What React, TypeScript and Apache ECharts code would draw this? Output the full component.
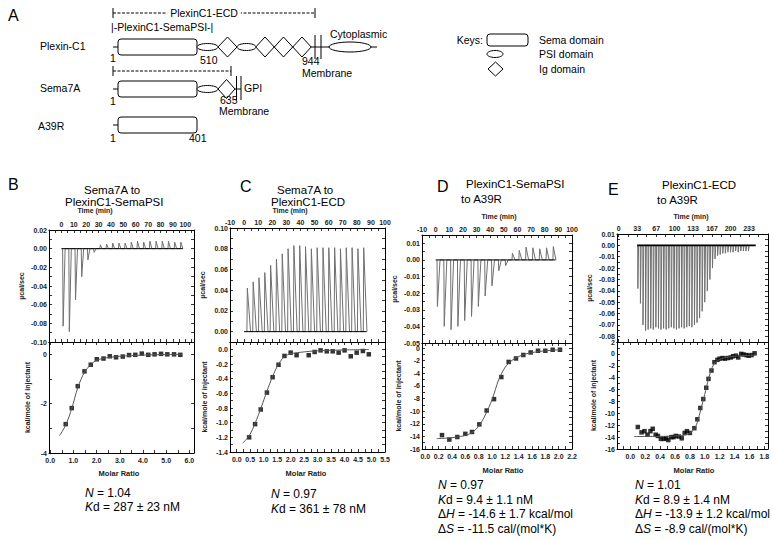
import { useEffect, useRef } from "react";
import * as echarts from "echarts";

const FONT = "'Liberation Sans', Arial, Helvetica, sans-serif";

// ================= Panel B: Sema7A to PlexinC1-SemaPSI =================
const timeTicksB = [0, 10, 20, 30, 40, 50, 60, 70, 80, 90, 100];
const ucalTicksB = [-0.1, -0.08, -0.06, -0.04, -0.02, 0.0, 0.02];
const ratioTicksB = [0, 1, 2, 3, 4, 5, 6];
const kcalTicksB = [-4, -2, 0];
const injStartB = 1;
const injStepB = 5;
const peaksB = [-0.083, -0.089, -0.055, -0.03, -0.012, -0.004, 0.004, 0.005, 0.006, 0.006, 0.006, 0.007, 0.008, 0.007, 0.008, 0.008, 0.008, 0.008, 0.007, 0.007];
const baselineB = [[0, 0], [98, 0]];
const isoB = [[0.67, -2.83], [0.93, -2.18], [1.19, -1.29], [1.48, -0.69], [1.75, -0.42], [2.01, -0.2], [2.3, -0.17], [2.57, -0.08], [2.84, -0.12], [3.13, -0.09], [3.4, -0.03], [3.67, -0.02], [3.95, 0.03], [4.23, -0.02], [4.5, 0.0], [4.78, 0.02], [5.05, 0.0], [5.34, 0.0], [5.61, -0.02]];
const fitB = [[0.4, -3.3], [0.67, -2.87], [0.93, -2.2], [1.19, -1.35], [1.48, -0.72], [1.75, -0.42], [2.0, -0.24], [2.5, -0.13], [3.0, -0.08], [4.0, -0.03], [5.0, -0.01], [5.7, 0.0]];

// ================= Panel C: Sema7A to PlexinC1-ECD =================
const timeTicksC = [-10, 0, 10, 20, 30, 40, 50, 60, 70, 80, 90, 100];
const ucalTicksC = [0.0, 0.02, 0.04, 0.06, 0.08, 0.1];
const ratioTicksC = [0, 0.5, 1, 1.5, 2, 2.5, 3, 3.5, 4, 4.5, 5, 5.5];
const kcalTicksC = [-1.4, -1.2, -1.0, -0.8, -0.6, -0.4, -0.2, 0.0];
const injStartC = 2;
const injStepC = 4.13;
const peaksC = [0.042, 0.048, 0.052, 0.057, 0.064, 0.07, 0.075, 0.08, 0.083, 0.083, 0.082, 0.08, 0.081, 0.081, 0.081, 0.081, 0.08, 0.081, 0.081, 0.08, 0.081];
const baselineC = [[0, 0], [87, 0]];
const isoC = [[0.46, -1.2], [0.68, -1.02], [0.89, -0.82], [1.12, -0.59], [1.33, -0.38], [1.55, -0.21], [1.77, -0.09], [2.0, -0.045], [2.22, -0.08], [2.67, -0.08], [2.89, -0.036], [3.11, -0.014], [3.34, -0.027], [3.56, -0.027], [3.78, -0.045], [4.0, -0.014], [4.23, -0.095], [4.45, -0.045], [4.68, -0.023], [4.9, -0.068]];
const fitC = [[0.22, -1.28], [0.46, -1.18], [0.68, -1.01], [0.9, -0.8], [1.12, -0.57], [1.33, -0.37], [1.55, -0.2], [1.77, -0.1], [2.0, -0.06], [2.5, -0.035], [3.0, -0.02], [4.0, -0.008], [4.9, -0.003]];

// ================= Panel D: PlexinC1-SemaPSI to A39R =================
const timeTicksD = [-10, 0, 10, 20, 30, 40, 50, 60, 70, 80, 90, 100];
const ucalTicksD = [-0.05, -0.04, -0.03, -0.02, -0.01, 0.0, 0.01];
const ratioTicksD = [0, 0.2, 0.4, 0.6, 0.8, 1.0, 1.2, 1.4, 1.6, 1.8, 2.0, 2.2];
const kcalTicksD = [-16, -14, -12, -10, -8, -6, -4, -2, 0];
const injStartD = 1;
const injStepD = 5;
const peaksD = [-0.028, -0.04, -0.042, -0.04, -0.0365, -0.034, -0.028, -0.0217, -0.0156, -0.0065, -0.0035, 0.004, 0.0057, 0.0077, 0.0073, 0.0067, 0.0073, 0.008];
const baselineD = [[0, 0], [88, 0]];
const isoD = [[0.25, -13.8], [0.36, -14.5], [0.48, -14.1], [0.6, -13.6], [0.7, -13.3], [0.81, -12.1], [0.92, -9.9], [1.03, -8.1], [1.14, -4.6], [1.25, -2.2], [1.36, -1.65], [1.47, -1.1], [1.58, -0.7], [1.69, -0.43], [1.8, -0.43], [1.91, -0.27], [2.02, -0.27]];
const fitD = [[0.17, -14.35], [0.3, -14.3], [0.45, -14.15], [0.6, -13.85], [0.7, -13.4], [0.8, -12.4], [0.9, -10.6], [1.0, -8.2], [1.05, -6.6], [1.1, -5.0], [1.2, -3.0], [1.3, -1.95], [1.4, -1.35], [1.5, -0.95], [1.7, -0.55], [1.9, -0.35], [2.04, -0.28]];

// ================= Panel E: PlexinC1-ECD to A39R =================
const timeTicksE = [0, 33, 67, 100, 133, 167, 200, 233];
const ucalTicksE = [-0.08, -0.07, -0.06, -0.05, -0.04, -0.03, -0.02, -0.01, 0.0, 0.01];
const ratioTicksE = [0, 0.2, 0.4, 0.6, 0.8, 1.0, 1.2, 1.4, 1.6, 1.8];
const kcalTicksE = [-16, -14, -12, -10, -8, -6, -4, -2, 0, 2];
const injStartE = 34;
const injStepE = 4.6;
const peaksE = [-0.038, -0.051, -0.07, -0.075, -0.074, -0.073, -0.074, -0.072, -0.073, -0.074, -0.073, -0.074, -0.073, -0.072, -0.073, -0.074, -0.073, -0.072, -0.073, -0.072, -0.071, -0.072, -0.07, -0.068, -0.064, -0.058, -0.05, -0.04, -0.03, -0.02, -0.012, -0.009, -0.008, -0.007, -0.007, -0.006, -0.006, -0.006, -0.005, -0.006, -0.005, -0.005, -0.005, -0.005];
const baselineE = [[33, 0], [245, 0]];
const isoE = [[0.1, -12.3], [0.15, -13.2], [0.19, -13.0], [0.23, -13.6], [0.27, -13.0], [0.3, -12.6], [0.34, -13.6], [0.37, -13.8], [0.41, -14.3], [0.45, -14.3], [0.48, -14.2], [0.51, -14.5], [0.55, -14.0], [0.58, -14.0], [0.61, -13.8], [0.65, -13.9], [0.69, -14.2], [0.73, -13.3], [0.76, -13.0], [0.8, -13.3], [0.86, -12.5], [0.9, -11.0], [0.94, -9.1], [0.98, -7.6], [1.02, -5.7], [1.05, -4.2], [1.09, -2.8], [1.13, -1.4], [1.17, -1.0], [1.2, -0.8], [1.24, -0.7], [1.27, -0.8], [1.31, -0.7], [1.35, -0.6], [1.38, -0.4], [1.42, -0.3], [1.45, -0.6], [1.49, 0.0], [1.52, -0.1], [1.56, -0.2], [1.59, -0.3], [1.63, -0.2], [1.67, 0.1]];
const fitE = [[0.05, -13.9], [0.5, -13.85], [0.75, -13.6], [0.85, -12.8], [0.9, -11.5], [0.95, -9.2], [1.0, -6.8], [1.05, -4.2], [1.1, -2.3], [1.15, -1.3], [1.25, -0.7], [1.4, -0.4], [1.68, -0.2]];

// ---------------- layout ----------------
type Panel = {
  top: number[]; bot: number[];
  tx: number[]; ty: number[]; bx: number[]; by: number[];
  timeTicks: number[]; ucalTicks: number[]; ratioTicks: number[]; kcalTicks: number[];
  ucalDec: number; ratioDec: number; kcalDec: number;
  start: number; step: number; peaks: number[]; rise: number; width: number;
  baseline: number[][]; iso: number[][]; fit: number[][];
  yGapTop: number; yGapBot: number;
};

const panels: Panel[] = [
  { top: [49, 230, 145, 112], bot: [49, 342, 145, 111], tx: [-10, 107], ty: [-0.1, 0.02], bx: [-0.05, 6.2], by: [-4, 0.5],
    timeTicks: timeTicksB, ucalTicks: ucalTicksB, ratioTicks: ratioTicksB, kcalTicks: kcalTicksB, ucalDec: 2, ratioDec: 1, kcalDec: 0,
    start: injStartB, step: injStepB, peaks: peaksB, rise: 0.4, width: 2.0, baseline: baselineB, iso: isoB, fit: fitB, yGapTop: 24, yGapBot: 18 },
  { top: [230, 228, 155, 114], bot: [230, 342, 155, 110], tx: [-10, 100], ty: [-0.01, 0.1], bx: [-0.25, 5.5], by: [-1.4, 0.1],
    timeTicks: timeTicksC, ucalTicks: ucalTicksC, ratioTicks: ratioTicksC, kcalTicks: kcalTicksC, ucalDec: 2, ratioDec: 1, kcalDec: 1,
    start: injStartC, step: injStepC, peaks: peaksC, rise: 0.3, width: 2.6, baseline: baselineC, iso: isoC, fit: fitC, yGapTop: 24, yGapBot: 22 },
  { top: [422, 235, 150, 108], bot: [422, 343, 150, 106], tx: [-10, 100], ty: [-0.05, 0.015], bx: [-0.05, 2.2], by: [-16, 0.8],
    timeTicks: timeTicksD, ucalTicks: ucalTicksD, ratioTicks: ratioTicksD, kcalTicks: kcalTicksD, ucalDec: 2, ratioDec: 1, kcalDec: 0,
    start: injStartD, step: injStepD, peaks: peaksD, rise: 0.3, width: 2.2, baseline: baselineD, iso: isoD, fit: fitD, yGapTop: 24, yGapBot: 20 },
  { top: [617, 234, 151, 108], bot: [617, 342, 151, 107], tx: [-3, 267], ty: [-0.085, 0.01], bx: [-0.18, 1.85], by: [-16, 2],
    timeTicks: timeTicksE, ucalTicks: ucalTicksE, ratioTicks: ratioTicksE, kcalTicks: kcalTicksE, ucalDec: 2, ratioDec: 1, kcalDec: 0,
    start: injStartE, step: injStepE, peaks: peaksE, rise: 0.3, width: 1.6, baseline: baselineE, iso: isoE, fit: fitE, yGapTop: 24, yGapBot: 20 },
];

function withMinor(ticks: number[], min: number, max: number) {
  const out: number[] = [...ticks];
  for (let i = 0; i < ticks.length - 1; i++) out.push((ticks[i] + ticks[i + 1]) / 2);
  if (ticks.length > 1) {
    const d = ticks[1] - ticks[0];
    const lo = ticks[0] - d / 2; if (lo >= min) out.push(lo);
    const hi = ticks[ticks.length - 1] + d / 2; if (hi <= max) out.push(hi);
  }
  return out.filter((v) => v >= min - 1e-9 && v <= max + 1e-9);
}

function fmt(dec: number) {
  return (v: number) => {
    const r = Math.abs(v) < 1e-9 ? 0 : v;
    return r.toFixed(dec);
  };
}

const labelStyle = { fontSize: 7, fontWeight: "bold" as const, color: "#222", fontFamily: FONT };

function makeAxis(gridIndex: number, position: string, min: number, max: number, ticks: number[], dec: number, showLabel: boolean, extra: any = {}) {
  return {
    type: "value", gridIndex, position, min, max,
    axisLine: { show: true, onZero: false, lineStyle: { color: "#000", width: 1 } },
    axisTick: { show: true, inside: true, length: 3, customValues: withMinor(ticks, min, max), lineStyle: { color: "#000", width: 0.8 } },
    axisLabel: { show: showLabel, customValues: ticks, formatter: fmt(dec), margin: 2, ...labelStyle },
    splitLine: { show: false },
    ...extra,
  };
}

function spikes(start: number, step: number, peaks: number[], rise: number, width: number) {
  const out: number[][] = [];
  peaks.forEach((p, i) => {
    const t = start + i * step;
    out.push([t, 0], [t + rise, p], [t + width, 0]);
  });
  return out;
}

function buildOption() {
  const grid: any[] = [];
  const xAxis: any[] = [];
  const yAxis: any[] = [];
  const series: any[] = [];
  panels.forEach((p, k) => {
    const gt = 2 * k, gb = 2 * k + 1;
    grid.push({ left: p.top[0], top: p.top[1], width: p.top[2], height: p.top[3], containLabel: false });
    grid.push({ left: p.bot[0], top: p.bot[1], width: p.bot[2], height: p.bot[3], containLabel: false });
    xAxis.push(makeAxis(gt, "top", p.tx[0], p.tx[1], p.timeTicks, 0, true));
    xAxis.push(makeAxis(gt, "bottom", p.tx[0], p.tx[1], p.timeTicks, 0, false));
    yAxis.push(makeAxis(gt, "left", p.ty[0], p.ty[1], p.ucalTicks, p.ucalDec, true, {
      name: "µcal/sec", nameLocation: "middle", nameGap: p.yGapTop, nameTextStyle: { fontSize: 7, fontWeight: "bold", fontFamily: FONT, color: "#222" } }));
    yAxis.push(makeAxis(gt, "right", p.ty[0], p.ty[1], p.ucalTicks, p.ucalDec, false));
    xAxis.push(makeAxis(gb, "bottom", p.bx[0], p.bx[1], p.ratioTicks, p.ratioDec, true, { axisLabel: { show: true, customValues: p.ratioTicks, formatter: fmt(p.ratioDec), margin: 4, ...labelStyle } }));
    xAxis.push(makeAxis(gb, "top", p.bx[0], p.bx[1], p.ratioTicks, p.ratioDec, false));
    yAxis.push(makeAxis(gb, "left", p.by[0], p.by[1], p.kcalTicks, p.kcalDec, true, {
      name: "kcal/mole of injectant", nameLocation: "middle", nameGap: p.yGapBot, nameTextStyle: { fontSize: 7, fontWeight: "bold", fontFamily: FONT, color: "#222" } }));
    yAxis.push(makeAxis(gb, "right", p.by[0], p.by[1], p.kcalTicks, p.kcalDec, false));

    const xt = 2 * gt, yt = 2 * gt, xb = 2 * gb, yb = 2 * gb;
    series.push({ type: "line", xAxisIndex: xt, yAxisIndex: yt, data: spikes(p.start, p.step, p.peaks, p.rise, p.width), showSymbol: false, symbol: "none", lineStyle: { color: "#707070", width: 1 }, silent: true });
    series.push({ type: "line", xAxisIndex: xt, yAxisIndex: yt, data: p.baseline, showSymbol: false, symbol: "none", lineStyle: { color: "#000", width: k === 3 ? 1.6 : 1 }, silent: true });
    series.push({ type: "line", xAxisIndex: xb, yAxisIndex: yb, data: p.fit, smooth: 0.3, showSymbol: false, symbol: "none", lineStyle: { color: "#555", width: 1 }, silent: true });
    series.push({ type: "scatter", xAxisIndex: xb, yAxisIndex: yb, data: p.iso, symbol: "rect", symbolSize: 4.5, itemStyle: { color: "#000" }, silent: true });
  });
  return { grid, xAxis, yAxis, series };
}

// ---------------- graphic helpers ----------------
function txt(x: number, y: number, text: string, size: number, extra: any = {}, align = "left") {
  return {
    type: "text", x, y, silent: true,
    style: { text, fontSize: size, fontFamily: FONT, fill: "#000", textAlign: align, align, textVerticalAlign: "middle", verticalAlign: "middle", ...extra },
  };
}
function ln(x1: number, y1: number, x2: number, y2: number, extra: any = {}) {
  return { type: "line", silent: true, shape: { x1, y1, x2, y2 }, style: { stroke: "#000", lineWidth: 1, ...extra } };
}
function diamond(cx: number, cy: number, hw: number, hh: number) {
  return { type: "polygon", silent: true, shape: { points: [[cx - hw, cy], [cx, cy - hh], [cx + hw, cy], [cx, cy + hh]] }, style: { fill: "#fff", stroke: "#000", lineWidth: 1 } };
}
function ell(cx: number, cy: number, rx: number, ry: number) {
  return { type: "ellipse", silent: true, shape: { cx, cy, rx, ry }, style: { fill: "#fff", stroke: "#000", lineWidth: 1 } };
}
function box(x: number, y: number, w: number, h: number) {
  return { type: "rect", silent: true, shape: { x, y, width: w, height: h, r: 3 }, style: { fill: "#fff", stroke: "#000", lineWidth: 1 } };
}
function bracket(x1: number, x2: number, y: number) {
  return [ln(x1, y - 5, x1, y + 5), ln(x2, y - 5, x2, y + 5), ln(x1, y, x2, y, { lineDash: [3, 1.5] })];
}

function buildGraphic() {
  const g: any[] = [];
  const F = 10.5;
  g.push(txt(8, 15, "A", 16));
  g.push(...bracket(113, 315, 13));
  g.push(txt(204, 13, "PlexinC1-ECD", F, { backgroundColor: "#fff", padding: [0, 3] }, "center"));
  g.push(txt(111, 27, "|-PlexinC1-SemaPSI-|", F));
  // Plexin-C1 row
  g.push(txt(40, 46, "Plexin-C1", F));
  g.push(ln(113, 47, 377, 47));
  g.push(box(118, 39, 79, 16));
  g.push(ell(207.5, 47, 10.5, 3.5));
  g.push(diamond(227.5, 47, 9.5, 10));
  g.push(ell(246.5, 47, 9.5, 3.5));
  g.push(diamond(265, 47, 9.2, 10));
  g.push(diamond(283.5, 47, 9.2, 10));
  g.push(diamond(302, 47, 9.2, 10));
  g.push(ln(315, 35, 315, 59));
  g.push(ln(321, 35, 321, 59));
  g.push(ell(350, 47, 21, 5));
  g.push(txt(330, 34, "Cytoplasmic", F));
  g.push(txt(110, 58, "1", F));
  g.push(txt(200, 60, "510", F));
  g.push(txt(302, 61, "944", F));
  g.push(txt(302, 72.5, "Membrane", F));
  // Sema7A row
  g.push(...bracket(113, 231, 71));
  g.push(txt(40, 88, "Sema7A", F));
  g.push(ln(113, 89, 241, 89));
  g.push(box(118, 81, 79, 16));
  g.push(ell(207.5, 89, 10.5, 3.5));
  g.push(diamond(226.5, 89, 8.5, 9.5));
  g.push(ln(236.5, 76, 236.5, 100));
  g.push(ln(241, 76, 241, 100));
  g.push(txt(244, 88, "GPI", F));
  g.push(txt(110, 101, "1", F));
  g.push(txt(220, 100, "635", F));
  g.push(txt(219, 111, "Membrane", F));
  // A39R row
  g.push(txt(38, 126, "A39R", F));
  g.push(ln(113, 125, 118, 125));
  g.push(box(118, 117, 79, 16));
  g.push(txt(110, 138, "1", F));
  g.push(txt(189, 138, "401", F));
  // Keys
  g.push(txt(483, 40, "Keys:", F, {}, "right"));
  g.push(box(487, 34, 41, 12));
  g.push(txt(539, 40, "Sema domain", F));
  g.push(ell(495, 54, 8, 3.5));
  g.push(txt(539, 54, "PSI domain", F));
  g.push(diamond(495.5, 69, 7.5, 7));
  g.push(txt(539, 69, "Ig domain", F));

  g.push(txt(8, 184, "B", 16));
  g.push(txt(240, 186, "C", 16));
  g.push(txt(437, 186, "D", 16));
  g.push(txt(608, 189, "E", 16));
  const T = 11.5;
  g.push(txt(84, 189.5, "Sema7A to", T));
  g.push(txt(65, 202, "PlexinC1-SemaPSI", T));
  g.push(txt(277, 190, "Sema7A to", T));
  g.push(txt(271, 202, "PlexinC1-ECD", T));
  g.push(txt(466, 184, "PlexinC1-SemaPSI", T));
  g.push(txt(461, 199, "to A39R", T));
  g.push(txt(662, 185, "PlexinC1-ECD", T));
  g.push(txt(657, 200, "to A39R", T));
  const ax = { fontWeight: "bold", fill: "#222" };
  g.push(txt(95, 210, "Time (min)", 7, ax, "center"));
  g.push(txt(290, 210, "Time (min)", 7, ax, "center"));
  g.push(txt(499, 216, "Time (min)", 7, ax, "center"));
  g.push(txt(691, 216, "Time (min)", 7, ax, "center"));
  g.push(txt(119, 473, "Molar Ratio", 7.5, ax, "center"));
  g.push(txt(306, 473, "Molar Ratio", 7.5, ax, "center"));
  g.push(txt(503, 470, "Molar Ratio", 7.5, ax, "center"));
  g.push(txt(694, 470, "Molar Ratio", 7.5, ax, "center"));
  const S = 12;
  const rich = { i: { fontStyle: "italic", fontSize: S, fontFamily: FONT, fill: "#000" } };
  const st = (x: number, y: number, s: string) => txt(x, y, s, S, { rich });
  g.push(st(85, 493, "{i|N} = 1.04"));
  g.push(st(85, 507, "{i|K}d = 287 ± 23 nM"));
  g.push(st(271, 494, "{i|N} = 0.97"));
  g.push(st(271, 509, "{i|K}d = 361 ± 78 nM"));
  g.push(st(438, 485, "{i|N} = 0.97"));
  g.push(st(438, 500, "{i|K}d = 9.4 ± 1.1 nM"));
  g.push(st(438, 514, "Δ{i|H} = -14.6 ± 1.7 kcal/mol"));
  g.push(st(438, 529, "Δ{i|S} = -11.5 cal/(mol*K)"));
  g.push(st(635, 485, "{i|N} = 1.01"));
  g.push(st(635, 500, "{i|K}d = 8.9 ± 1.4 nM"));
  g.push(st(635, 514, "Δ{i|H} = -13.9 ± 1.2 kcal/mol"));
  g.push(st(635, 529, "Δ{i|S} = -8.9 cal/(mol*K)"));
  return g;
}

export default function App() {
  const ref = useRef<HTMLDivElement>(null);
  useEffect(() => {
    if (!ref.current) return;
    const chart = echarts.init(ref.current, undefined, { renderer: "svg" });
    chart.setOption({
      animation: false,
      backgroundColor: "#fff",
      textStyle: { fontFamily: FONT },
      ...buildOption(),
      graphic: { elements: buildGraphic() },
    });
    return () => chart.dispose();
  }, []);
  return <div ref={ref} style={{ position: "absolute", left: 0, top: 0, width: 773, height: 540 }} />;
}
